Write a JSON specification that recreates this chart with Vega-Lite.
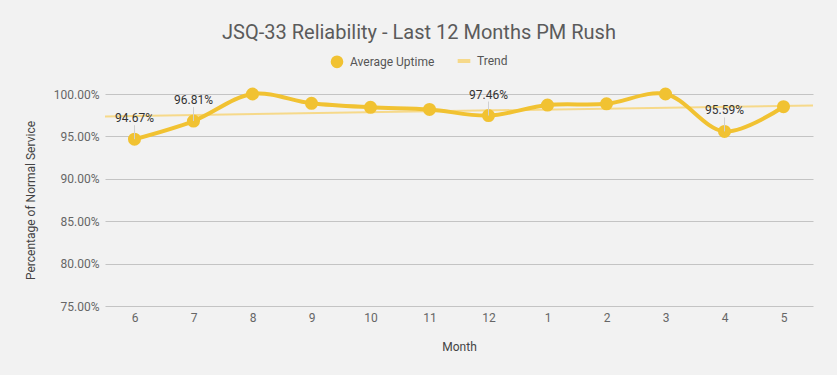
{
  "$schema": "https://vega.github.io/schema/vega-lite/v6.json",
  "autosize": {"type": "none"},
  "width": 708,
  "height": 212,
  "padding": {"left": 105, "top": 94, "right": 24, "bottom": 69},
  "background": "#f2f2f2",
  "title": {
    "text": "JSQ-33 Reliability - Last 12 Months PM Rush",
    "font": "Roboto",
    "fontSize": 20,
    "fontWeight": "normal",
    "color": "#5b5b5b",
    "offset": 12,
    "dx": -40,
    "anchor": "middle"
  },
  "config": {
    "view": {"stroke": null},
    "font": "Roboto"
  },
  "data": {
    "values": [
      {"idx": 0, "month": "6", "uptime": 0.9467},
      {"idx": 1, "month": "7", "uptime": 0.9681},
      {"idx": 2, "month": "8", "uptime": 1.0},
      {"idx": 3, "month": "9", "uptime": 0.9890},
      {"idx": 4, "month": "10", "uptime": 0.9843},
      {"idx": 5, "month": "11", "uptime": 0.9818},
      {"idx": 6, "month": "12", "uptime": 0.9746},
      {"idx": 7, "month": "1", "uptime": 0.9870},
      {"idx": 8, "month": "2", "uptime": 0.9884},
      {"idx": 9, "month": "3", "uptime": 1.0},
      {"idx": 10, "month": "4", "uptime": 0.9559},
      {"idx": 11, "month": "5", "uptime": 0.9850}
    ]
  },
  "encoding": {
    "x": {
      "field": "idx",
      "type": "quantitative",
      "scale": {"domain": [-0.5, 11.5], "nice": false, "zero": false},
      "axis": {
        "title": "Month",
        "values": [0, 1, 2, 3, 4, 5, 6, 7, 8, 9, 10, 11],
        "labelExpr": "['6','7','8','9','10','11','12','1','2','3','4','5'][datum.value]",
        "grid": false,
        "domain": false,
        "ticks": false,
        "labelPadding": 6,
        "labelFont": "Roboto",
        "labelFontSize": 12,
        "labelColor": "#666666",
        "titleFont": "Roboto",
        "titleFontSize": 12,
        "titleFontWeight": "normal",
        "titleColor": "#444444",
        "titlePadding": 18
      }
    },
    "y": {
      "field": "uptime",
      "type": "quantitative",
      "scale": {"domain": [0.75, 1.0], "nice": false, "zero": false},
      "axis": {
        "title": "Percentage of Normal Service",
        "values": [0.75, 0.8, 0.85, 0.9, 0.95, 1.0],
        "format": ".2%",
        "grid": true,
        "gridColor": "#c4c4c4",
        "domain": false,
        "ticks": false,
        "labelPadding": 6,
        "labelFont": "Roboto",
        "labelFontSize": 12,
        "labelColor": "#666666",
        "titleFont": "Roboto",
        "titleFontSize": 12,
        "titleFontWeight": "normal",
        "titleColor": "#444444",
        "titlePadding": 16
      }
    }
  },
  "layer": [
    {
      "transform": [{"regression": "uptime", "on": "idx", "extent": [-0.5, 11.5]}],
      "mark": {"type": "line", "strokeWidth": 2, "clip": false},
      "encoding": {
        "color": {
          "datum": "Trend",
          "scale": {"domain": ["Average Uptime", "Trend"], "range": ["#f1c232", "#f6d98a"]},
          "legend": {
            "orient": "none",
            "legendX": 226,
            "legendY": -39,
            "direction": "horizontal",
            "title": null,
            "labelFont": "Roboto",
            "labelFontSize": 12,
            "labelColor": "#555555",
            "symbolSize": 160,
            "columnPadding": 14,
            "labelOffset": 7,
            "encode": {
              "symbols": {
                "update": {
                  "shape": {"signal": "datum.value === 'Trend' ? 'stroke' : 'circle'"},
                  "fill": {"signal": "scale('color', datum.value)"},
                  "stroke": {"signal": "scale('color', datum.value)"},
                  "strokeWidth": {"signal": "datum.value === 'Trend' ? 4 : 0"},
                  "opacity": {"value": 1},
                  "fillOpacity": {"value": 1}
                }
              }
            }
          }
        }
      }
    },
    {
      "mark": {"type": "line", "strokeWidth": 4, "interpolate": "catmull-rom", "clip": false},
      "encoding": {"color": {"datum": "Average Uptime"}}
    },
    {
      "mark": {"type": "point", "filled": true, "size": 170, "opacity": 1, "clip": false},
      "encoding": {"color": {"datum": "Average Uptime"}}
    },
    {
      "transform": [{"filter": {"field": "month", "oneOf": ["6", "7", "12", "4"]}}],
      "mark": {"type": "rule", "color": "#d0d0d0", "strokeWidth": 1, "y2Offset": -14},
      "encoding": {"y2": {"field": "uptime"}}
    },
    {
      "transform": [{"filter": {"field": "month", "oneOf": ["6", "7", "12", "4"]}}],
      "mark": {"type": "text", "dy": -21, "baseline": "middle", "font": "Roboto", "fontSize": 12, "color": "#333333"},
      "encoding": {"text": {"field": "uptime", "type": "quantitative", "format": ".2%"}}
    }
  ]
}
